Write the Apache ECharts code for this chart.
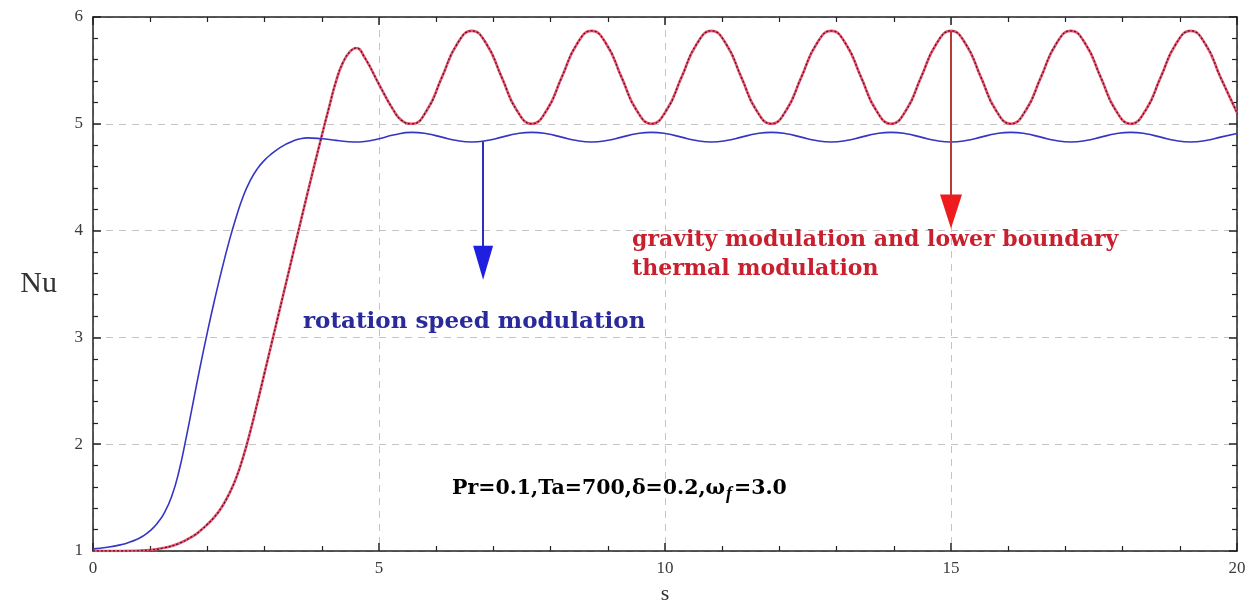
<!DOCTYPE html>
<html>
<head>
<meta charset="utf-8">
<script src="https://cdn.jsdelivr.net/npm/echarts@6/dist/echarts.min.js"></script>
<style>html,body{margin:0;padding:0;background:#fff}#c{width:1260px;height:613px}</style>
</head>
<body>
<div id="c"></div>
<script>
// ---- data ----
const xTickValues = [0, 5, 10, 15, 20];
const xTickLabels = ['0', '5', '10', '15', '20'];
const yTickValues = [1, 2, 3, 4, 5, 6];
const yTickLabels = ['1', '2', '3', '4', '5', '6'];

// rotation speed modulation (blue)
const blueS = [0, 0.25, 0.5, 0.625, 0.75, 0.875, 1.0, 1.125, 1.25, 1.375, 1.5, 1.625, 1.75, 1.875, 2.0, 2.125, 2.25, 2.375, 2.5, 2.625, 2.75, 2.875,
  3.0, 3.125, 3.25, 3.375, 3.5, 3.625, 3.75, 4.0, 4.25, 4.57, 4.75, 5.0, 5.25, 5.575,
  5.837, 6.099, 6.361, 6.622, 6.884, 7.146, 7.408, 7.670,
  7.932, 8.194, 8.456, 8.717, 8.979, 9.241, 9.503, 9.764,
  10.026, 10.288, 10.550, 10.811, 11.073, 11.335, 11.597, 11.858,
  12.120, 12.382, 12.644, 12.906, 13.167, 13.429, 13.691, 13.953,
  14.215, 14.476, 14.738, 15.000, 15.262, 15.524, 15.785, 16.047,
  16.309, 16.571, 16.833, 17.094, 17.356, 17.618, 17.880, 18.142,
  18.403, 18.665, 18.927, 19.189, 19.451, 19.712, 20.0];
const blueNu = [1.02, 1.035, 1.06, 1.08, 1.105, 1.14, 1.19, 1.26, 1.36, 1.51, 1.74, 2.05, 2.39, 2.73, 3.05, 3.35, 3.63, 3.89, 4.12, 4.32, 4.47, 4.58,
  4.66, 4.72, 4.77, 4.81, 4.84, 4.86, 4.868, 4.86, 4.845, 4.83, 4.835, 4.86, 4.895, 4.92,
  4.907, 4.875, 4.843, 4.83, 4.843, 4.875, 4.907, 4.92,
  4.907, 4.875, 4.843, 4.83, 4.843, 4.875, 4.907, 4.92,
  4.907, 4.875, 4.843, 4.83, 4.843, 4.875, 4.907, 4.92,
  4.907, 4.875, 4.843, 4.83, 4.843, 4.875, 4.907, 4.92,
  4.907, 4.875, 4.843, 4.83, 4.843, 4.875, 4.907, 4.92,
  4.907, 4.875, 4.843, 4.83, 4.843, 4.875, 4.907, 4.92,
  4.907, 4.875, 4.843, 4.83, 4.843, 4.875, 4.909];

// gravity modulation and lower boundary thermal modulation (red)
const redS = [0, 0.5, 1.0, 1.25, 1.5, 1.75, 1.875, 2.0, 2.125, 2.25, 2.375, 2.5, 2.625, 2.75, 2.875, 3.0, 3.125, 3.25, 3.5, 3.75, 4.0, 4.125, 4.25, 4.375, 4.5, 4.6,
  4.75, 5.0, 5.25, 5.4, 5.575,
  5.837, 6.099, 6.361, 6.622, 6.884, 7.146, 7.408, 7.670,
  7.932, 8.194, 8.456, 8.717, 8.979, 9.241, 9.503, 9.764,
  10.026, 10.288, 10.550, 10.811, 11.073, 11.335, 11.597, 11.858,
  12.120, 12.382, 12.644, 12.906, 13.167, 13.429, 13.691, 13.953,
  14.215, 14.476, 14.738, 15.000, 15.262, 15.524, 15.785, 16.047,
  16.309, 16.571, 16.833, 17.094, 17.356, 17.618, 17.880, 18.142,
  18.403, 18.665, 18.927, 19.189, 19.451, 19.712, 20.0];
const redNu = [1.00, 1.00, 1.01, 1.03, 1.07, 1.14, 1.19, 1.25, 1.32, 1.41, 1.53, 1.68, 1.88, 2.12, 2.39, 2.67, 2.95, 3.23, 3.79, 4.35, 4.89, 5.15, 5.40, 5.58, 5.68, 5.71,
  5.62, 5.37, 5.13, 5.03, 5.00,
  5.127, 5.435, 5.743, 5.87, 5.743, 5.435, 5.127, 5.00,
  5.127, 5.435, 5.743, 5.87, 5.743, 5.435, 5.127, 5.00,
  5.127, 5.435, 5.743, 5.87, 5.743, 5.435, 5.127, 5.00,
  5.127, 5.435, 5.743, 5.87, 5.743, 5.435, 5.127, 5.00,
  5.127, 5.435, 5.743, 5.87, 5.743, 5.435, 5.127, 5.00,
  5.127, 5.435, 5.743, 5.87, 5.743, 5.435, 5.127, 5.00,
  5.127, 5.435, 5.743, 5.87, 5.743, 5.435, 5.105];

// annotation arrows: [s, Nu start, Nu tip]
const blueArrow = [6.82, 4.835, 3.54];
const redArrow = [15.0, 5.87, 4.02];

const annBlue = 'rotation speed modulation';
const annRed = 'gravity modulation and lower boundary\nthermal modulation';
const paramText = ['Pr=0.1,Ta=700,\u03b4=0.2,\u03c9', 'f', '=3.0'];

// ---- chart ----
const chart = echarts.init(document.getElementById('c'), null, {renderer: 'canvas'});
const serif = '"Liberation Serif", "DejaVu Serif", serif';
const boldSerif = '"DejaVu Serif", "Liberation Serif", serif';
const pair = (xs, ys) => xs.map((x, i) => [x, ys[i]]);
const labelFor = (vals, labs) => v => { const i = vals.indexOf(Math.round(v * 1000) / 1000); return i >= 0 ? labs[i] : ''; };

const axisLineStyle = {color: '#222', width: 1.5};
const gridLine = {show: true, lineStyle: {color: '#c4c4c4', type: [7, 6], width: 1}};

function xAx(pos, show) {
  return {
    type: 'value', position: pos, min: 0, max: 20, interval: 5,
    axisLine: {show: true, onZero: false, lineStyle: axisLineStyle},
    axisTick: {show: true, inside: true, length: 8, lineStyle: {color: '#222', width: 1.5}},
    minorTick: {show: true, splitNumber: 5, length: 5, lineStyle: {color: '#222', width: 1.2}},
    axisLabel: {show: show, margin: 9, fontFamily: serif, fontSize: 17, color: '#3a3a3a', formatter: labelFor(xTickValues, xTickLabels)},
    splitLine: show ? gridLine : {show: false},
    name: show ? 's' : '', nameLocation: 'middle', nameGap: 32,
    nameTextStyle: {fontFamily: serif, fontSize: 22, color: '#333'}
  };
}
function yAx(pos, show) {
  return {
    type: 'value', position: pos, min: 1, max: 6, interval: 1,
    axisLine: {show: true, onZero: false, lineStyle: axisLineStyle},
    axisTick: {show: true, inside: true, length: 8, lineStyle: {color: '#222', width: 1.5}},
    minorTick: {show: true, splitNumber: 5, length: 5, lineStyle: {color: '#222', width: 1.2}},
    axisLabel: {show: show, margin: 10, fontFamily: serif, fontSize: 17, color: '#3a3a3a', formatter: labelFor(yTickValues, yTickLabels)},
    splitLine: show ? gridLine : {show: false},
    name: show ? 'Nu' : '', nameLocation: 'middle', nameGap: 36, nameRotate: 0,
    nameTextStyle: {fontFamily: serif, fontSize: 30, color: '#333'}
  };
}

const option = {
  backgroundColor: '#fff',
  animation: false,
  grid: {left: 93, right: 23, top: 17, bottom: 62},
  xAxis: [xAx('bottom', true), xAx('top', false)],
  yAxis: [yAx('left', true), yAx('right', false)],
  series: [
    {
      name: 'rotation speed modulation', type: 'line', smooth: 0.5, showSymbol: false,
      data: pair(blueS, blueNu),
      lineStyle: {color: '#3535c4', width: 1.6},
      markLine: {
        silent: true, symbol: ['none', 'none'], animation: false,
        lineStyle: {color: '#2d2dc0', width: 2, type: 'solid'}, label: {show: false},
        data: [[{coord: [blueArrow[0], blueArrow[1]]}, {coord: [blueArrow[0], blueArrow[2] + 0.15]}]]
      },
      markPoint: {
        silent: true, symbol: 'triangle', symbolSize: [20, 34], symbolRotate: 180, symbolOffset: [0, -17],
        itemStyle: {color: '#1f1fe0'}, label: {show: false},
        data: [{coord: [blueArrow[0], blueArrow[2]]}]
      },
      z: 3
    },
    {
      name: 'gravity modulation and lower boundary thermal modulation', type: 'line', smooth: 0.5, showSymbol: false,
      data: pair(redS, redNu),
      lineStyle: {color: '#ea5570', width: 2.6},
      markLine: {
        silent: true, symbol: ['none', 'none'], animation: false,
        lineStyle: {color: '#b83a3a', width: 2, type: 'solid'}, label: {show: false},
        data: [[{coord: [redArrow[0], redArrow[1]]}, {coord: [redArrow[0], redArrow[2] + 0.15]}]]
      },
      markPoint: {
        silent: true, symbol: 'triangle', symbolSize: [22, 34], symbolRotate: 180, symbolOffset: [0, -17],
        itemStyle: {color: '#ee1c1c'}, label: {show: false},
        data: [{coord: [redArrow[0], redArrow[2]]}]
      },
      z: 2
    },
    {
      name: 'red overlay', type: 'line', smooth: 0.5, showSymbol: false,
      data: pair(redS, redNu),
      lineStyle: {color: '#5a1426', width: 1.3, type: [2, 2]},
      z: 4
    }
  ],
  graphic: [
    {type: 'text', left: 632, top: 226, z: 10,
     style: {text: annRed, fill: '#c8202e', font: 'bold 22px ' + boldSerif, lineHeight: 29}},
    {type: 'text', left: 303, top: 309, z: 10,
     style: {text: annBlue, fill: '#2a2a9c', font: 'bold 23px ' + boldSerif, lineHeight: 27}},
    {type: 'text', left: 452, top: 475, z: 10,
     style: {
       text: '{a|' + paramText[0] + '}{b|' + paramText[1] + '}{a|' + paramText[2] + '}',
       rich: {
         a: {fontFamily: boldSerif, fontWeight: 'bold', fontSize: 20.5, color: '#111', lineHeight: 24},
         b: {fontFamily: serif, fontStyle: 'italic', fontWeight: 'bold', fontSize: 18, color: '#111', padding: [10, 2, 0, 1], lineHeight: 24}
       }
     }}
  ]
};
chart.setOption(option);
</script>
</body>
</html>
